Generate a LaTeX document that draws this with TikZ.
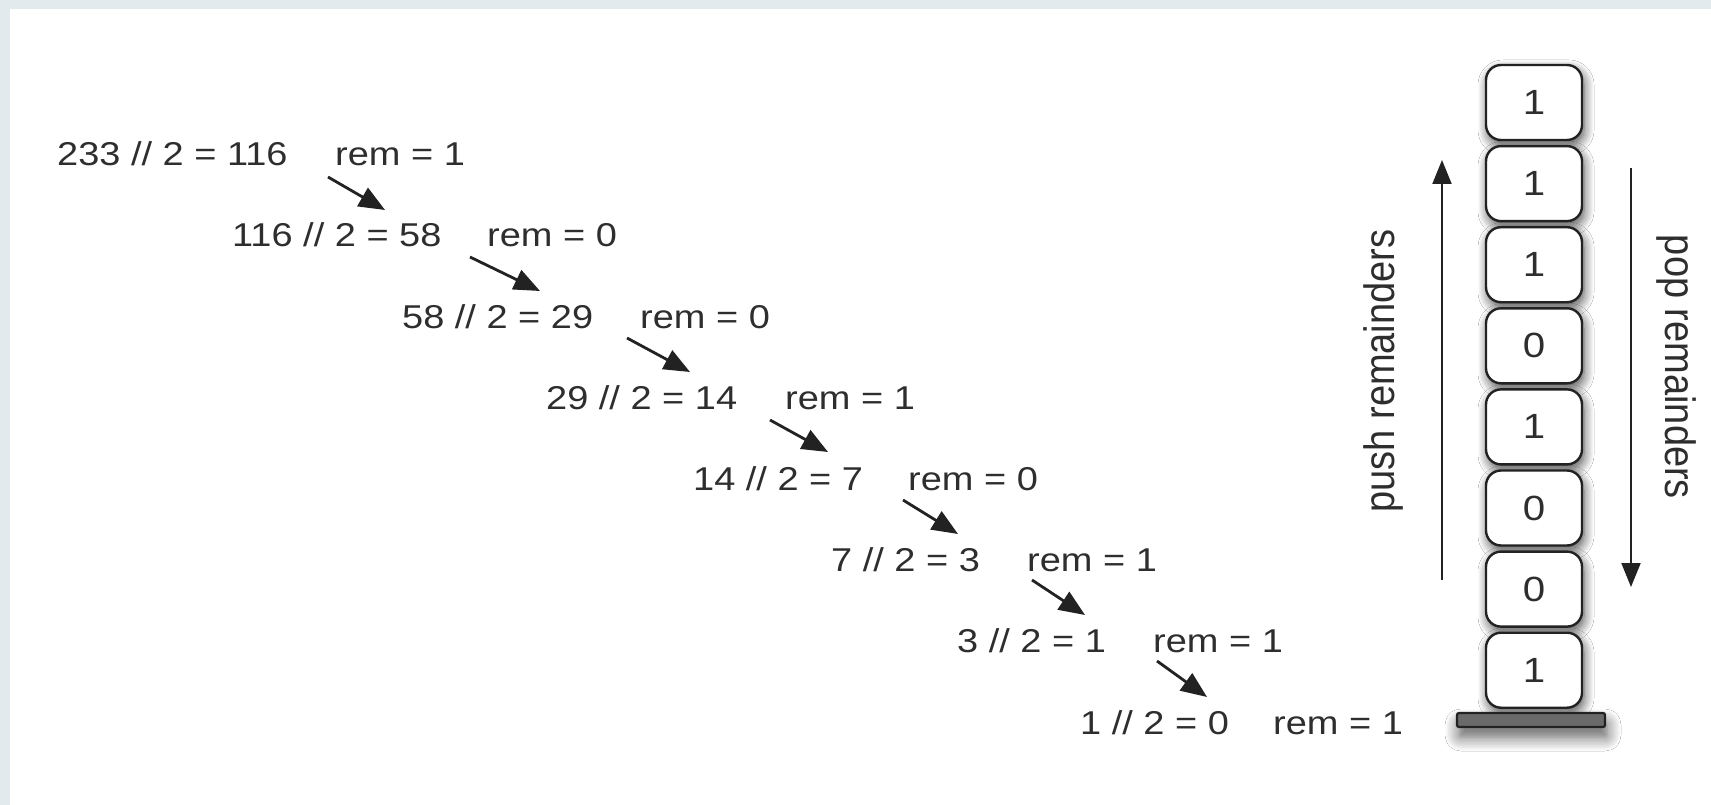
\documentclass[tikz,border=0pt]{standalone}
\usepackage{fontspec}
\usepackage{graphicx}
\setmainfont{Liberation Sans}
\usetikzlibrary{arrows.meta,shadows.blur}
\definecolor{txt}{HTML}{2E2E2E}
\definecolor{ink}{HTML}{222222}
\definecolor{framecol}{HTML}{E3EAEE}
\definecolor{platefill}{HTML}{6A6A6A}
\newcommand{\hs}[1]{\scalebox{1.15}[1]{#1}}
\begin{document}
\begin{tikzpicture}[x=1pt,y=-1pt,
  eq/.style={anchor=base west, inner sep=0pt, text=txt, font=\fontsize{33}{40}\selectfont},
  darr/.style={draw=ink, line width=2.8pt, -{Triangle[length=26pt,width=21pt]}},
  varr/.style={draw=ink, line width=2pt, -{Triangle[length=24pt,width=19pt]}},
  side/.style={inner sep=0pt, text=txt, font=\fontsize{38}{44}\selectfont},
  cell/.style={draw=ink, line width=2.4pt, fill=white, rounded corners=15pt,
    minimum width=96pt, minimum height=75pt, inner sep=0pt, text=txt,
    font=\fontsize{35}{40}\selectfont,
    blur shadow={shadow xshift=2pt, shadow yshift=-5pt, shadow blur radius=10pt, shadow opacity=70, shadow blur steps=10}},
  plate/.style={draw=ink, line width=2.2pt, fill=platefill, rounded corners=2pt,
    minimum width=148pt, minimum height=14pt, inner sep=0pt,
    blur shadow={shadow xshift=2pt, shadow yshift=-10pt, shadow blur radius=14pt, shadow opacity=65, shadow blur steps=10}}
]
\useasboundingbox (0,0) rectangle (1711,805);
\fill[framecol] (0,0) rectangle (1711,805);
\fill[white] (10,9) rectangle (1711,805);

% rows
\node[eq] (e1) at (57,166)   {\hs{233 // 2 = 116}};
\node[eq] (r1) at (335,166)  {\hs{rem = 1}};
\node[eq] (e2) at (232,247)  {\hs{116 // 2 = 58}};
\node[eq] (r2) at (487,247)  {\hs{rem = 0}};
\node[eq] (e3) at (402,328)  {\hs{58 // 2 = 29}};
\node[eq] (r3) at (640,328)  {\hs{rem = 0}};
\node[eq] (e4) at (546,409)  {\hs{29 // 2 = 14}};
\node[eq] (r4) at (785,409)  {\hs{rem = 1}};
\node[eq] (e5) at (693,490)  {\hs{14 // 2 = 7}};
\node[eq] (r5) at (908,490)  {\hs{rem = 0}};
\node[eq] (e6) at (831,571)  {\hs{7 // 2 = 3}};
\node[eq] (r6) at (1027,571) {\hs{rem = 1}};
\node[eq] (e7) at (957,652)  {\hs{3 // 2 = 1}};
\node[eq] (r7) at (1153,652) {\hs{rem = 1}};
\node[eq] (e8) at (1080,734) {\hs{1 // 2 = 0}};
\node[eq] (r8) at (1273,734) {\hs{rem = 1}};

% diagonal arrows
\draw[darr] ([shift={(-7,11)}]r1.base west)  -- ([shift={(153,-37)}]e2.base west);
\draw[darr] ([shift={(-17,10)}]r2.base west) -- ([shift={(138,-37)}]e3.base west);
\draw[darr] ([shift={(-13,10)}]r3.base west) -- ([shift={(144,-37)}]e4.base west);
\draw[darr] ([shift={(-15,11)}]r4.base west) -- ([shift={(135,-38)}]e5.base west);
\draw[darr] ([shift={(-5,10)}]r5.base west)  -- ([shift={(127,-37)}]e6.base west);
\draw[darr] ([shift={(5,9)}]r6.base west)    -- ([shift={(128,-37)}]e7.base west);
\draw[darr] ([shift={(4,9)}]r7.base west)    -- ([shift={(127,-37)}]e8.base west);

% stack
\foreach \v [count=\k from 0] in {1,1,1,0,1,0,0,1}
  \node[cell] (c\k) at (1534,{102.5+81.1*\k}) {\hs{\v}};
\node[plate] (base) at (1531,720) {};

% push / pop arrows
\coordinate (pushtail) at (1442,580);
\coordinate (pushhead) at (1442,160);
\coordinate (poptail) at (1631,168);
\coordinate (pophead) at (1631,587);
\draw[varr] (pushtail) -- (pushhead);
\draw[varr] (poptail) -- (pophead);
\node[side, rotate=90] (pushl) at (1383,371) {\scalebox{1}[1.12]{push remainders}};
\node[side, rotate=-90] (popl) at (1676,367) {\scalebox{1}[1.12]{pop remainders}};
\end{tikzpicture}
\end{document}
